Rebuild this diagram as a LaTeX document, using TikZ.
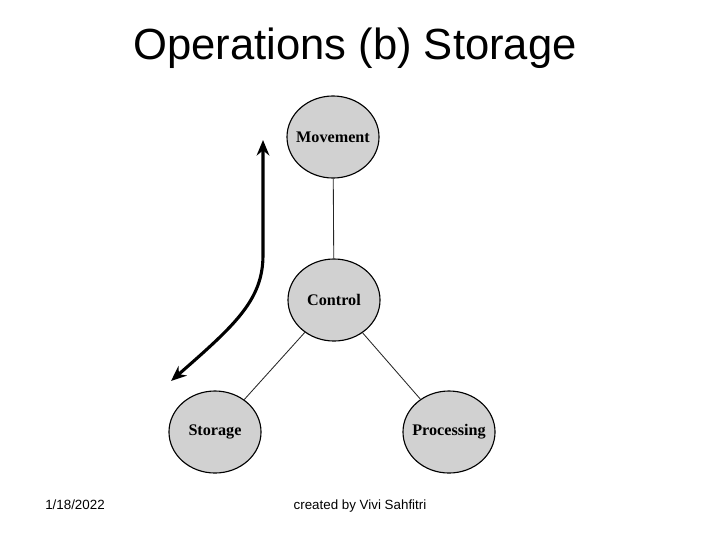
\documentclass[tikz,border=0pt]{standalone}
\usepackage{fontspec}
\setmainfont{Liberation Serif}
\newfontfamily\slidefont{Liberation Sans}
\usetikzlibrary{shapes.geometric, arrows.meta}

\begin{document}
\begin{tikzpicture}[
  x=0.025cm, y=-0.025cm,
  % Node styles
  opnode/.style={ellipse, draw=black, fill=black!18, line width=0.8pt,
    inner xsep=-9pt, inner ysep=0pt, minimum width=2.3cm, minimum height=2.05cm,
    font=\fontsize{11.5}{13}\selectfont\bfseries},
  link/.style={draw=black!85, line width=0.6pt},
  bigarr/.style={{Stealth[length=11pt, width=9pt]}-{Stealth[length=11pt, width=9pt]},
    line width=2.2pt},
  titletext/.style={font=\slidefont\fontsize{31}{36}\selectfont},
  foottext/.style={font=\slidefont\fontsize{9.5}{11}\selectfont, anchor=base},
]
\useasboundingbox (0,0) rectangle (720,540);

% === Title ===
\node[titletext] (title) at (355,48) {Operations (b) Storage};

% === Operation nodes ===
\node[opnode] (move) at (333,137) {Movement};
\node[opnode] (ctrl) at (334,300) {Control};
\node[opnode] (stor) at (215,432) {Storage};
\node[opnode] (proc) at (449,432) {Processing};

% === Links ===
\draw[link] (move) -- (ctrl);
\draw[link] (ctrl) -- (stor);
\draw[link] (ctrl) -- (proc);

% === Curved double arrow ===
\coordinate (up) at (263,140);
\coordinate (bend) at (263,255);
\coordinate (down) at (171,381);
\draw[bigarr] (up) -- (bend) .. controls (263,300) and (235,325) .. (down);

% === Footer ===
\node[foottext] (date) at (75,509) {1/18/2022};
\node[foottext] (author) at (360,509) {created by Vivi Sahfitri};

\end{tikzpicture}
\end{document}
